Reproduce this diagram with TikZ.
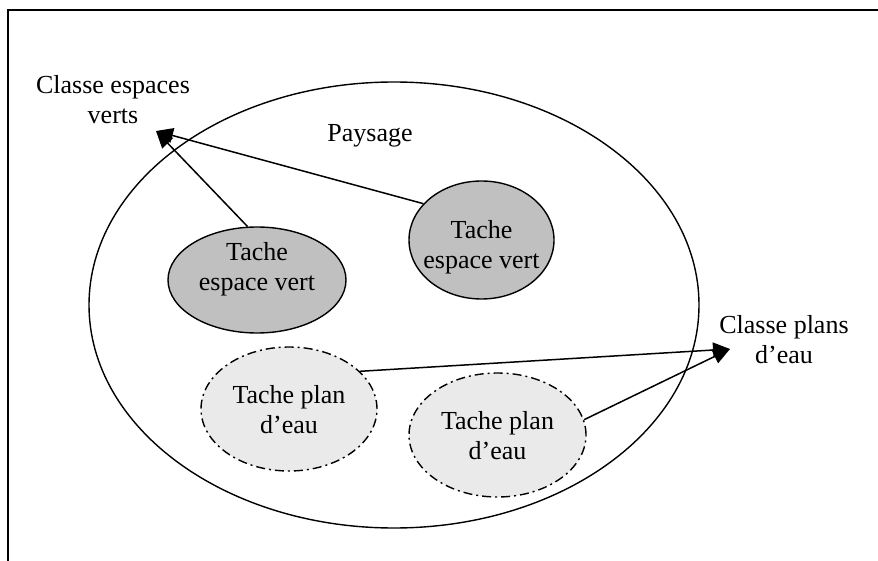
\documentclass[tikz,border=0pt]{standalone}
\usepackage{fontspec}
\setmainfont{Liberation Serif}
\usetikzlibrary{arrows.meta,shapes.geometric}
\definecolor{tachegris}{HTML}{C0C0C0}
\definecolor{tacheclair}{HTML}{EAEAEA}
\tikzset{
  lbl/.style={align=center,inner sep=0pt,font=\fontsize{26}{30}\selectfont},
  ell/.style={ellipse,draw=black,line width=1.4pt,inner sep=-30pt},
  vert/.style={ell,fill=tachegris},
  eau/.style={ell,fill=tacheclair,dash pattern=on 9pt off 4pt on 2pt off 4pt},
  fleche/.style={line width=1.5pt,-{Triangle[length=17pt,width=15pt]}},
}
\begin{document}
\begin{tikzpicture}[x=1pt,y=-1pt]
\useasboundingbox (0,0) rectangle (878,561);
% frame (top and left sides)
\draw[line width=2.6pt] (8,561) -- (8,10) -- (878,10);
% landscape
\node[ellipse,draw=black,line width=1.4pt,minimum width=610pt,minimum height=446pt] (pays) at (394,305) {};
\node[lbl] (paysl) at (370,136) {Paysage};
% classes
\node[lbl] (cev) at (113,100) {Classe espaces\\verts};
\node[lbl] (cpe) at (784,340) {Classe plans\\d’eau};
\coordinate (cevtip) at (156,131);
\coordinate (cpetip) at (730,349);
% patches
\node[vert,minimum width=178pt,minimum height=106pt] (g1) at (257,280) {};
\node[lbl] (g1t) at (257,269) {Tache\\espace vert};
\node[vert,minimum width=145pt,minimum height=118pt] (g2) at (481.5,240) {};
\node[lbl] (g2t) at (481.5,247) {Tache\\espace vert};
\node[eau,minimum width=176pt,minimum height=124pt] (d1) at (289,409) {};
\node[lbl] (d1t) at (289,410) {Tache plan\\d’eau};
\node[eau,minimum width=177pt,minimum height=124pt] (d2) at (497.5,435) {};
\node[lbl] (d2t) at (497.5,436) {Tache plan\\d’eau};
% connectors
\draw[fleche] (g1.100) -- (cevtip);
\draw[fleche] (g2.148) -- (cevtip);
\draw[fleche] (d1.28) -- (cpetip);
\draw[fleche] (d2.10) -- (cpetip);
\end{tikzpicture}
\end{document}
